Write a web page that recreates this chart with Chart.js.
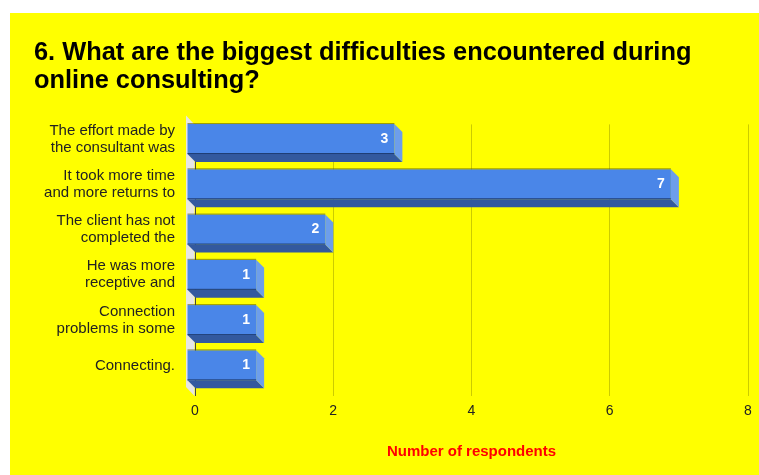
<!DOCTYPE html>
<html>
<head>
<meta charset="utf-8">
<script src="https://cdn.jsdelivr.net/npm/chart.js@4"></script>
<style>
    body { margin: 0; background: #ffffff; }
    #painel {
        position: absolute;
        left: 10px;
        top: 13px;
        width: 749px;
        height: 462px;
        background: #ffff00;
    }
</style>
</head>
<body>
<div id="painel">
    <canvas id="grafico" width="749" height="462"></canvas>
</div>
<script>
const categorias = [
    ["The effort made by", "the consultant was"],
    ["It took more time", "and more returns to"],
    ["The client has not", "completed the"],
    ["He was more", "receptive and"],
    ["Connection", "problems in some"],
    ["Connecting."]
];
const respondentes = [3, 7, 2, 1, 1, 1];
const titulo = ["6. What are the biggest difficulties encountered during", "online consulting?"];
const tituloEixo = "Number of respondents";
const eixoMin = 0;
const eixoMax = 8;
const passo = 2;

const PROF = 8; // profundidade do efeito 3D, em px

// desenha a parede lateral, as caixas 3D e os valores a partir das barras do Chart.js
const barras3d = {
    id: "barras3d",
    beforeDatasetsDraw(chart) {
        const ctx = chart.ctx;
        const area = chart.chartArea;
        const x0 = chart.scales.x.getPixelForValue(0);
        ctx.save();
        ctx.fillStyle = "#e6e6e6";
        ctx.beginPath();
        ctx.moveTo(x0 - PROF - 1, area.top - PROF - 1);
        ctx.lineTo(x0 - 0.5, area.top);
        ctx.lineTo(x0 - 0.5, area.bottom);
        ctx.lineTo(x0 - PROF - 1, area.bottom - PROF - 1);
        ctx.closePath();
        ctx.fill();
        ctx.restore();
    },
    afterDatasetsDraw(chart) {
        const ctx = chart.ctx;
        const meta = chart.getDatasetMeta(0);
        ctx.save();
        meta.data.forEach((barra, i) => {
            const { x, y, base, height } = barra.getProps(["x", "y", "base", "height"], true);
            const topo = y - height / 2;
            const baixo = y + height / 2;

            // face de baixo
            ctx.fillStyle = "#33599e";
            ctx.beginPath();
            ctx.moveTo(base - PROF, baixo - PROF);
            ctx.lineTo(x - PROF, baixo - PROF);
            ctx.lineTo(x, baixo);
            ctx.lineTo(base, baixo);
            ctx.closePath();
            ctx.fill();

            // face lateral
            ctx.fillStyle = "#6d9eeb";
            ctx.beginPath();
            ctx.moveTo(x - PROF, topo - PROF);
            ctx.lineTo(x, topo);
            ctx.lineTo(x, baixo);
            ctx.lineTo(x - PROF, baixo - PROF);
            ctx.closePath();
            ctx.fill();

            // face da frente
            ctx.fillStyle = "#4a86e8";
            ctx.fillRect(base - PROF, topo - PROF, x - base, height);
            ctx.fillStyle = "#1f3d73";
            ctx.fillRect(base - PROF, baixo - PROF - 1, x - base, 1);
            ctx.fillStyle = "rgba(90,90,0,0.6)";
            ctx.fillRect(base - PROF, topo - PROF - 1, x - base, 1);

            // valor
            ctx.fillStyle = "#ffffff";
            ctx.font = "bold 14px 'Liberation Sans', Arial, sans-serif";
            ctx.textAlign = "right";
            ctx.textBaseline = "middle";
            ctx.fillText(String(respondentes[i]), x - PROF - 6, y - PROF);
        });
        ctx.restore();
    }
};

Chart.defaults.font.family = "'Liberation Sans', Arial, sans-serif";
Chart.defaults.color = "#222222";

new Chart(document.getElementById("grafico"), {
    type: "bar",
    data: {
        labels: categorias,
        datasets: [{
            data: respondentes,
            backgroundColor: "rgba(0,0,0,0)",
            borderWidth: 0,
            barThickness: 30
        }]
    },
    options: {
        indexAxis: "y",
        responsive: false,
        animation: false,
        layout: { padding: { top: 0, right: 11, bottom: 0, left: 24 } },
        plugins: {
            legend: { display: false },
            tooltip: { enabled: false },
            title: {
                display: true,
                text: titulo,
                align: "start",
                color: "#000000",
                font: { size: 25.4, weight: "bold", lineHeight: 1.11 },
                padding: { top: 26, bottom: 29 }
            }
        },
        scales: {
            x: {
                min: eixoMin,
                max: eixoMax,
                ticks: { stepSize: passo, padding: 7, font: { size: 14 }, color: "#222222" },
                grid: {
                    drawTicks: false,
                    color: (c) => c.tick && c.tick.value === 0 ? "#444444" : "rgba(0,0,0,0.2)"
                },
                border: { display: false },
                title: {
                    display: true,
                    text: tituloEixo,
                    color: "#ff0000",
                    font: { size: 15, weight: "bold" },
                    padding: { top: 0, bottom: 14 }
                },
                afterFit(scale) { scale.height = 79; }
            },
            y: {
                grid: { display: false, drawTicks: false },
                border: { display: false },
                ticks: {
                    padding: 20,
                    labelOffset: -PROF,
                    color: "#222222",
                    font: { size: 15, lineHeight: 1.13 }
                },
                afterFit(scale) { scale.width = 161; }
            }
        }
    },
    plugins: [barras3d]
});
</script>
</body>
</html>
